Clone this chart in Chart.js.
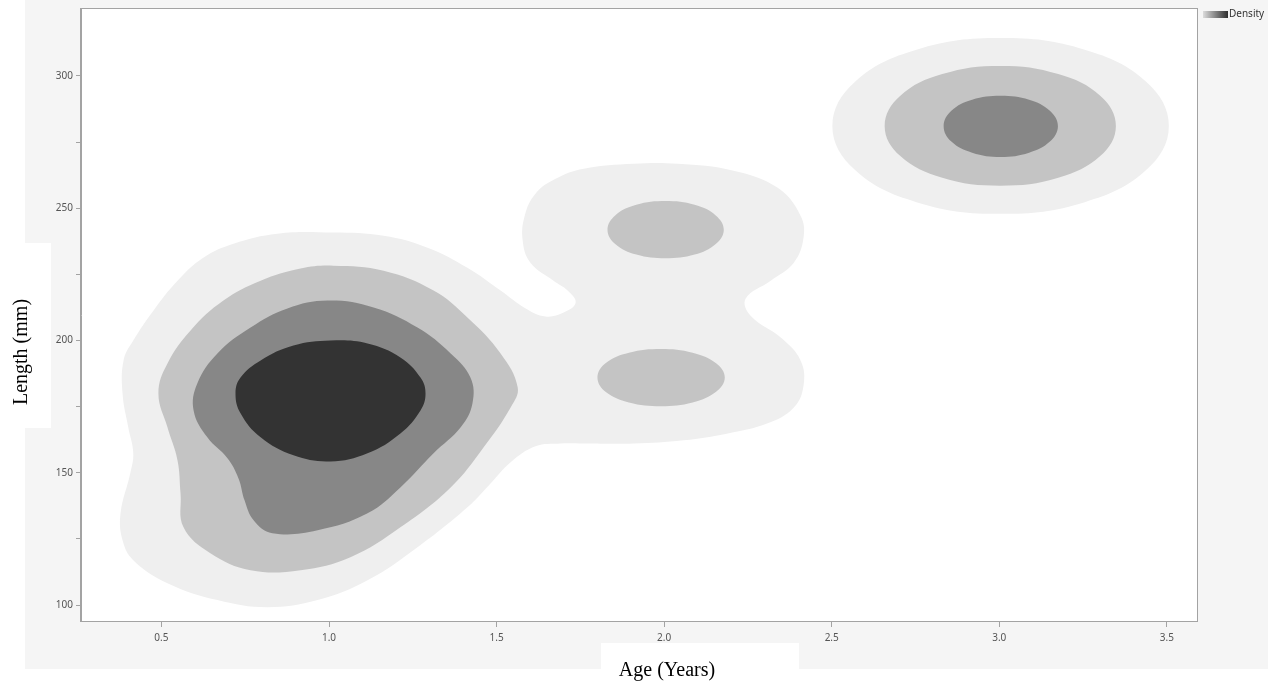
<!DOCTYPE html>
<html>
<head>
<meta charset="utf-8">
<title>Age vs Length density</title>
<script src="https://cdn.jsdelivr.net/npm/chart.js@4.4.1/dist/chart.umd.min.js"></script>
<style>
  body { margin: 0; background: #fff; }
  canvas { display: block; }
</style>
</head>
<body>
<canvas id="chart" width="1268" height="681"></canvas>
<script>
// Axis ticks
const xTickValues = [0.5, 1.0, 1.5, 2.0, 2.5, 3.0, 3.5];
const xTickLabels = ['0.5', '1.0', '1.5', '2.0', '2.5', '3.0', '3.5'];
const yTickValues = [100, 125, 150, 175, 200, 225, 250, 275, 300];
const yTickLabels = ['100', '', '150', '', '200', '', '250', '', '300'];

// Density contour outlines, [age, length]
// level 0 = lowest density (lightest)
const outerLeftAndMiddle = [
  [1.013, 240.8], [1.163, 239.6], [1.294, 235.1], [1.413, 227.5], [1.512, 218.9],
  [1.587, 212.1], [1.646, 209.1], [1.700, 210.6], [1.736, 214.3], [1.712, 218.9],
  [1.670, 222.6], [1.601, 229.4], [1.578, 237.7], [1.584, 247.2], [1.616, 255.5],
  [1.676, 261.1], [1.760, 264.9], [1.909, 266.8], [2.040, 266.8], [2.207, 264.2],
  [2.339, 257.7], [2.407, 247.2], [2.416, 238.9], [2.387, 229.4], [2.318, 222.6],
  [2.243, 215.8], [2.258, 209.4], [2.348, 201.1], [2.407, 192.5], [2.416, 183.0],
  [2.387, 174.7], [2.309, 168.7], [2.190, 164.9], [2.058, 162.3], [1.909, 161.1],
  [1.760, 161.1], [1.691, 161.1], [1.616, 160.0], [1.542, 154.0], [1.482, 146.0],
  [1.413, 137.0], [1.264, 121.9], [1.115, 109.4], [0.966, 101.9], [0.816, 99.2],
  [0.667, 101.9], [0.518, 108.3], [0.416, 117.0], [0.384, 124.5], [0.378, 134.7],
  [0.407, 149.8], [0.416, 157.4], [0.401, 167.2], [0.384, 180.0], [0.387, 192.5],
  [0.416, 200.0], [0.476, 211.3], [0.548, 222.6], [0.625, 231.3], [0.715, 236.6],
  [0.846, 240.4]
];
const outerTopRight = [
  [3.506, 281.1], [3.439, 297.7], [3.255, 309.9], [3.004, 314.3], [2.753, 309.9],
  [2.569, 297.7], [2.502, 281.1], [2.569, 264.5], [2.753, 252.3], [3.004, 247.9],
  [3.255, 252.3], [3.439, 264.5]
];
const secondLeft = [
  [1.013, 228.3], [1.163, 226.4], [1.312, 218.9], [1.413, 208.7], [1.512, 195.1],
  [1.563, 182.3], [1.542, 174.7], [1.461, 159.6], [1.363, 144.5], [1.213, 129.4],
  [1.064, 118.1], [0.915, 113.2], [0.766, 113.2], [0.646, 119.6], [0.566, 129.4],
  [0.557, 142.3], [0.548, 154.7], [0.518, 167.2], [0.491, 180.0], [0.518, 191.3],
  [0.587, 203.8], [0.685, 215.1], [0.796, 222.6], [0.915, 227.2]
];
const secondMiddleTop = [
  [2.178, 241.9], [2.154, 247.3], [2.091, 251.3], [2.004, 252.7], [1.917, 251.3],
  [1.854, 247.3], [1.831, 241.9], [1.854, 236.5], [1.917, 232.5], [2.004, 231.1],
  [2.091, 232.5], [2.154, 236.5]
];
const secondMiddleBottom = [
  [2.181, 186.0], [2.155, 191.4], [2.085, 195.4], [1.990, 196.8], [1.895, 195.4],
  [1.825, 191.4], [1.801, 186.0], [1.825, 180.6], [1.895, 176.6], [1.990, 175.2],
  [2.085, 176.6], [2.155, 180.6]
];
const secondTopRight = [
  [3.348, 281.1], [3.302, 292.4], [3.176, 300.7], [3.003, 303.8], [2.830, 300.7],
  [2.704, 292.4], [2.658, 281.1], [2.704, 269.8], [2.830, 261.5], [3.003, 258.5],
  [3.176, 261.5], [3.302, 269.8]
];
const thirdLeft = [
  [0.996, 215.1], [1.133, 212.5], [1.264, 204.9], [1.363, 195.1], [1.422, 186.0],
  [1.428, 176.2], [1.393, 167.2], [1.312, 157.4], [1.213, 144.5], [1.115, 134.7],
  [0.966, 128.3], [0.831, 127.2], [0.775, 132.1], [0.748, 139.6], [0.730, 147.9],
  [0.697, 155.5], [0.637, 163.4], [0.596, 173.6], [0.607, 183.8], [0.667, 195.1],
  [0.766, 204.9], [0.876, 212.1]
];
const thirdTopRight = [
  [3.175, 281.0], [3.151, 286.8], [3.089, 291.0], [3.004, 292.5], [2.919, 291.0],
  [2.857, 286.8], [2.834, 281.0], [2.857, 275.2], [2.919, 271.0], [3.004, 269.4],
  [3.089, 271.0], [3.151, 275.2]
];
const peakLeft = [
  [1.004, 200.0], [1.115, 198.9], [1.213, 193.6], [1.273, 186.0], [1.288, 180.0],
  [1.273, 173.6], [1.213, 164.9], [1.115, 157.4], [1.004, 154.3], [0.894, 156.6],
  [0.796, 163.4], [0.736, 172.5], [0.721, 180.0], [0.736, 186.0], [0.796, 192.5],
  [0.894, 198.1]
];

const contours = [
  { pts: outerLeftAndMiddle, level: 0 },
  { pts: outerTopRight, level: 0 },
  { pts: secondLeft, level: 1 },
  { pts: secondMiddleTop, level: 1 },
  { pts: secondMiddleBottom, level: 1 },
  { pts: secondTopRight, level: 1 },
  { pts: thirdLeft, level: 2 },
  { pts: thirdTopRight, level: 2 },
  { pts: peakLeft, level: 3 }
];

const levelColors = ['#efefef', '#c4c4c4', '#878787', '#333333'];
const axisColor = '#a3a3a3';

// repeat the first three points so the smoothed outline closes without a kink
function ring(pts) {
  const all = pts.concat([pts[0], pts[1], pts[2]]);
  return all.map(p => ({ x: p[0], y: p[1] }));
}

const datasets = contours.map(c => ({
  data: ring(c.pts),
  backgroundColor: levelColors[c.level],
  borderWidth: 0,
  pointRadius: 0,
  fill: 'shape',
  tension: 0.4,
  order: 10 - c.level
}));

// Panel background, framed plot, axis titles and the small legend
const decorations = {
  id: 'decorations',
  beforeDraw(chart) {
    const ctx = chart.ctx;
    const a = chart.chartArea;
    ctx.save();
    ctx.fillStyle = '#ffffff';
    ctx.fillRect(0, 0, chart.width, chart.height);
    ctx.fillStyle = '#f5f5f5';
    ctx.fillRect(25, 0, chart.width - 25, 669);
    ctx.fillStyle = '#ffffff';
    ctx.fillRect(0, 243, 51, 185);   // behind y title
    ctx.fillRect(601, 643, 198, 38); // behind x title
    ctx.fillRect(a.left, a.top, a.right - a.left, a.bottom - a.top);
    ctx.restore();
  },
  afterDraw(chart) {
    const ctx = chart.ctx;
    const a = chart.chartArea;
    ctx.save();
    ctx.strokeStyle = axisColor;
    ctx.lineWidth = 1;
    ctx.strokeRect(a.left - 0.5, a.top - 0.5, a.right - a.left + 1, a.bottom - a.top + 1);

    ctx.fillStyle = '#000';
    ctx.font = '20px "Liberation Serif"';
    ctx.textAlign = 'center';
    ctx.textBaseline = 'alphabetic';
    ctx.fillText('Age (Years)', 667, 676);

    ctx.translate(27, 352);
    ctx.rotate(-Math.PI / 2);
    ctx.fillText('Length (mm)', 0, 0);
    ctx.restore();

    ctx.save();
    const g = ctx.createLinearGradient(1203, 0, 1228, 0);
    g.addColorStop(0, '#dcdcdc');
    g.addColorStop(1, '#2e2e2e');
    ctx.fillStyle = g;
    ctx.fillRect(1203, 11, 25, 7);
    ctx.fillStyle = '#333';
    ctx.font = '10px "Noto Sans"';
    ctx.textAlign = 'left';
    ctx.textBaseline = 'middle';
    ctx.fillText('Density', 1229, 14.5);
    ctx.restore();
  }
};

const ctx = document.getElementById('chart').getContext('2d');
const chart = new Chart(ctx, {
  type: 'line',
  data: { datasets: datasets },
  plugins: [decorations],
  options: {
    responsive: false,
    animation: false,
    events: [],
    layout: { padding: { top: 8, right: 71, left: 0, bottom: 0 } },
    plugins: {
      legend: { display: false },
      tooltip: { enabled: false },
      title: { display: false }
    },
    scales: {
      x: {
        type: 'linear',
        min: 0.26,
        max: 3.59,
        afterBuildTicks: scale => { scale.ticks = xTickValues.map(v => ({ value: v })); },
        afterFit: scale => { scale.height = 60; },
        ticks: {
          callback: (v, i) => xTickLabels[i],
          color: '#555',
          font: { family: 'Noto Sans', size: 10 },
          padding: 5,
          maxRotation: 0,
          autoSkip: false
        },
        grid: { drawOnChartArea: false, tickLength: 6, color: axisColor },
        border: { color: axisColor }
      },
      y: {
        type: 'linear',
        min: 94,
        max: 325.3,
        afterBuildTicks: scale => { scale.ticks = yTickValues.map(v => ({ value: v })); },
        afterFit: scale => { scale.width = 81; },
        ticks: {
          callback: (v, i) => yTickLabels[i],
          color: '#555',
          font: { family: 'Noto Sans', size: 10 },
          padding: 3,
          autoSkip: false
        },
        grid: { drawOnChartArea: false, tickLength: 5, color: axisColor },
        border: { color: axisColor }
      }
    }
  }
});
</script>
</body>
</html>
